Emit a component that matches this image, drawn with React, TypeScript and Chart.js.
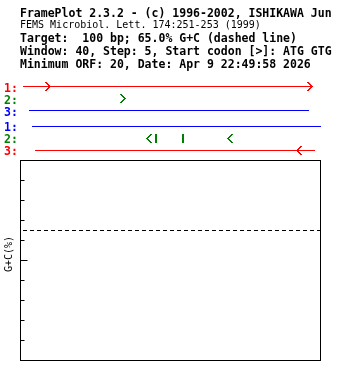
import React, { useEffect, useRef } from "react";
import { Chart, registerables } from "chart.js";

Chart.register(...registerables);

// ---- data ----
const headerLines = [
  "FramePlot 2.3.2 - (c) 1996-2002, ISHIKAWA Jun",
  "FEMS Microbiol. Lett. 174:251-253 (1999)",
  "Target:  100 bp; 65.0% G+C (dashed line)",
  "Window: 40, Step: 5, Start codon [>]: ATG GTG",
  "Minimum ORF: 20, Date: Apr 9 22:49:58 2026",
];
const seqLength = 100; // bp
const frameLabels = ["1:", "2:", "3:", "1:", "2:", "3:"];
const frameColors = ["#ff0000", "#008000", "#0000ff", "#0000ff", "#008000", "#ff0000"];
const frameStrand = ["+", "+", "+", "-", "-", "-"];
const frameRows = [1, 2, 3, 4.3333, 5.3333, 6.3333];

// ORF lines
const orfFrame = [0, 2, 3, 5];
const orfStart = [1, 3, 4, 5];
const orfEnd = [97, 96.33, 100.33, 98.33];

// start codons (> forward, < reverse)
const startFrame = [0, 0, 1, 4, 4, 5];
const startPos = [9.33, 96.67, 34.33, 43, 70, 93];

// stop codons
const stopFrame = [4, 4];
const stopPos = [45.33, 54.33];

const gcMin = 0;
const gcMax = 100;
const gcTarget = 65;
const gcTicks = [10, 20, 30, 40, 50, 60, 70, 80, 90];
const gcMajorTick = 50;
const yLabel = "G+C(%)";

// ---- marker images ----
function makeChevron(color: string, dir: string): HTMLCanvasElement {
  const c = document.createElement("canvas");
  c.width = 6;
  c.height = 9;
  const ctx = c.getContext("2d")!;
  ctx.fillStyle = color;
  for (let r = 0; r < 9; r++) {
    const col = Math.min(r, 8 - r);
    const x = dir === "+" ? col : 4 - col;
    ctx.fillRect(x, r, 2, 1);
  }
  return c;
}
function makeBar(color: string): HTMLCanvasElement {
  const c = document.createElement("canvas");
  c.width = 2;
  c.height = 9;
  const ctx = c.getContext("2d")!;
  ctx.fillStyle = color;
  ctx.fillRect(0, 0, 2, 9);
  return c;
}

// plot geometry: whole chart area spans tracks + G+C box
const areaTop = 74.5;
const areaBottom = 360.5;
const boxHeight = 200;
const rowPx = 12;

const decor = {
  id: "framePlotDecor",
  afterDraw(chart: any) {
    const ctx = chart.ctx as CanvasRenderingContext2D;
    const { left, right, bottom } = chart.chartArea;
    const yGC = chart.scales.y;
    const yT = chart.scales.yt;
    ctx.save();
    // header
    ctx.fillStyle = "#000";
    ctx.textAlign = "left";
    ctx.textBaseline = "alphabetic";
    const baselines = [17, 28, 42, 55, 68];
    headerLines.forEach((t, i) => {
      ctx.font = i === 1 ? "10px 'DejaVu Sans Mono'" : "bold 11.5px 'DejaVu Sans Mono'";
      ctx.fillText(t, 20, baselines[i]);
    });
    // frame labels
    ctx.font = "bold 11.5px 'DejaVu Sans Mono'";
    frameLabels.forEach((t, i) => {
      ctx.fillStyle = frameColors[i];
      const y = Math.round(yT.getPixelForValue(frameRows[i]));
      ctx.fillText(t, 4, y + 5);
    });
    // box
    ctx.strokeStyle = "#000";
    ctx.lineWidth = 1;
    const l = Math.round(left) + 0.5;
    const r = Math.round(right) + 0.5;
    const t0 = Math.floor(yGC.getPixelForValue(gcMax)) + 0.5;
    const b0 = Math.floor(bottom) + 0.5;
    ctx.strokeRect(l, t0, r - l, b0 - t0);
    // ticks
    ctx.beginPath();
    gcTicks.forEach((v) => {
      const y = Math.floor(yGC.getPixelForValue(v)) + 0.5;
      const len = v === gcMajorTick ? 7 : 4;
      ctx.moveTo(l, y);
      ctx.lineTo(l + len, y);
    });
    ctx.stroke();
    // y label
    ctx.font = "10px 'DejaVu Sans Mono'";
    ctx.fillStyle = "#000";
    ctx.translate(9, 254);
    ctx.rotate(-Math.PI / 2);
    ctx.textAlign = "center";
    ctx.textBaseline = "middle";
    ctx.fillText(yLabel, 0, 0);
    ctx.restore();
  },
};

export default function App() {
  const ref = useRef<HTMLCanvasElement | null>(null);
  useEffect(() => {
    if (!ref.current) return;
    const datasets: any[] = [];
    orfFrame.forEach((f, i) => {
      datasets.push({
        type: "line",
        data: [
          { x: orfStart[i], y: frameRows[f] },
          { x: orfEnd[i], y: frameRows[f] },
        ],
        yAxisID: "yt",
        borderColor: frameColors[f],
        borderWidth: 1,
        pointRadius: 0,
        clip: false,
        borderCapStyle: "butt",
      });
    });
    const startImgs = startFrame.map((f) => makeChevron(frameColors[f], frameStrand[f]));
    datasets.push({
      type: "scatter",
      data: startPos.map((x, i) => ({ x, y: frameRows[startFrame[i]] })),
      yAxisID: "yt",
      pointStyle: (c: any) => startImgs[c.dataIndex],
      pointRadius: 5,
      clip: false,
    });
    const stopImgs = stopFrame.map((f) => makeBar(frameColors[f]));
    datasets.push({
      type: "scatter",
      data: stopPos.map((x, i) => ({ x, y: frameRows[stopFrame[i]] })),
      yAxisID: "yt",
      pointStyle: (c: any) => stopImgs[c.dataIndex],
      pointRadius: 5,
      clip: false,
    });
    datasets.push({
      type: "line",
      data: [
        { x: 0, y: gcTarget },
        { x: seqLength, y: gcTarget },
      ],
      yAxisID: "y",
      borderColor: "#000",
      borderWidth: 1,
      borderDash: [4, 3],
      borderDashOffset: 4,
      pointRadius: 0,
    });
    const areaH = areaBottom - areaTop;
    const chart = new Chart(ref.current, {
      type: "line",
      data: { datasets },
      options: {
        animation: false,
        responsive: false,
        devicePixelRatio: 1,
        events: [],
        layout: { padding: { left: 20, right: 20, top: areaTop, bottom: 380 - areaBottom } },
        scales: {
          x: { type: "linear", min: 0, max: seqLength, display: false },
          y: {
            type: "linear",
            min: gcMin,
            max: gcMin + ((gcMax - gcMin) * areaH) / boxHeight,
            display: false,
          },
          yt: {
            type: "linear",
            reverse: true,
            min: 0,
            max: areaH / rowPx,
            display: false,
          },
        },
        plugins: {
          legend: { display: false },
          tooltip: { enabled: false },
          title: { display: false },
        },
      } as any,
      plugins: [decor],
    });
    return () => chart.destroy();
  }, []);
  return (
    <div style={{ position: "absolute", left: 0, top: 0, width: 340, height: 380, background: "#fff" }}>
      <canvas ref={ref} width={340} height={380} />
    </div>
  );
}
